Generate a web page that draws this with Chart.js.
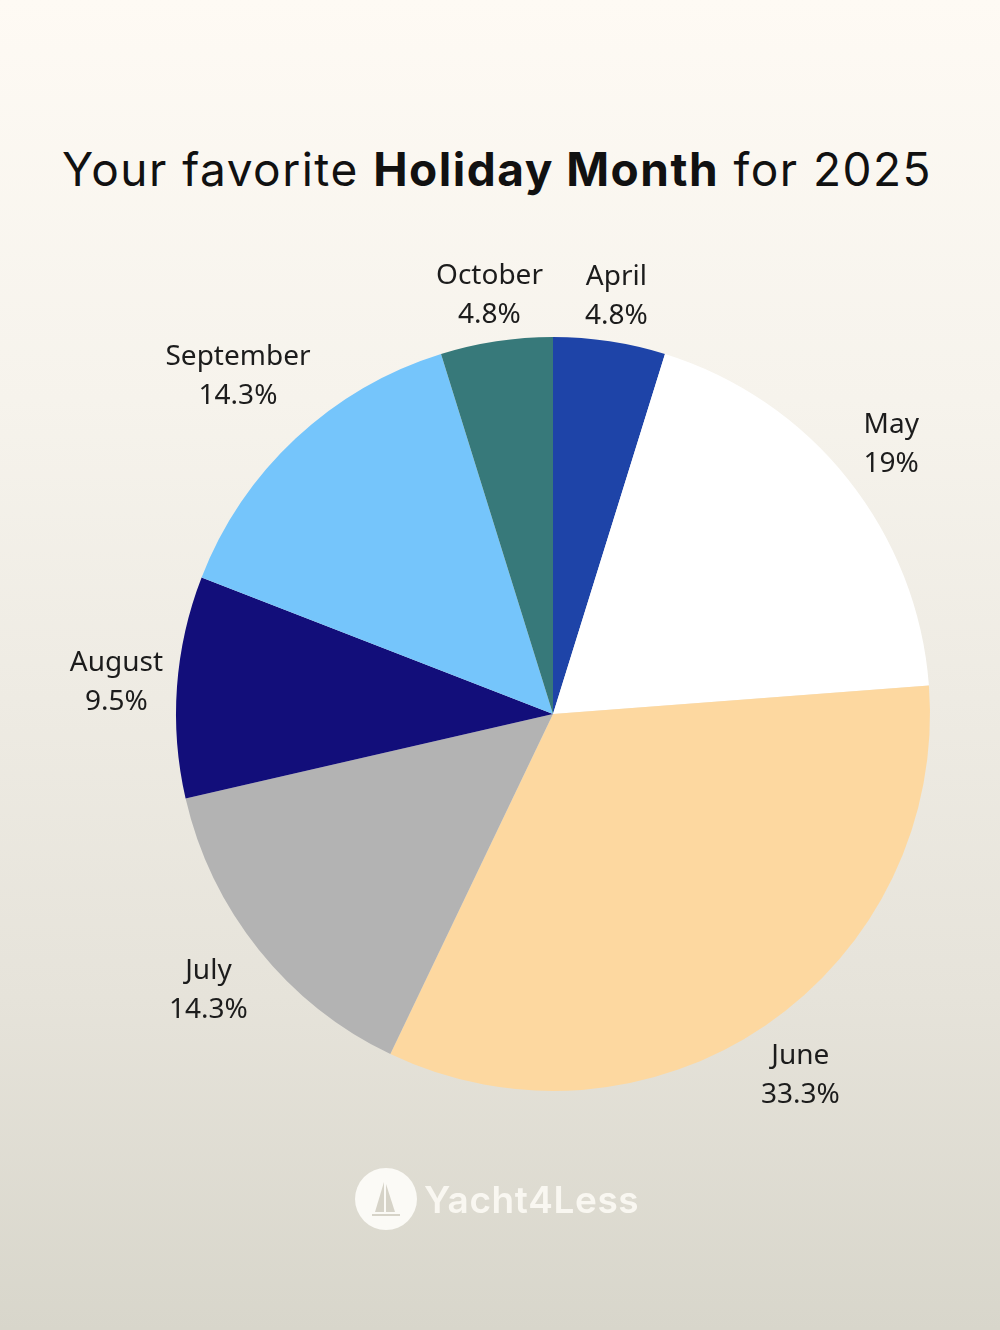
<!DOCTYPE html>
<html>
<head>
<meta charset="utf-8">
<script src="https://cdn.jsdelivr.net/npm/chart.js@4"></script>
<style>
  html, body { margin: 0; padding: 0; }
  body {
    width: 1000px; height: 1330px; position: relative; overflow: hidden;
    background: linear-gradient(to bottom, #fefaf4 0%, #f6f3ec 30%, #e6e3da 75%, #d8d6cb 100%);
  }
  #title {
    position: absolute; left: 0; width: 994px; top: 141px; margin: 0;
    text-align: center; font-family: Inter, "Open Sans", sans-serif; font-weight: 400;
    font-size: 46px; color: #111; letter-spacing: 1.5px; white-space: nowrap;
  }
  #title b { font-weight: 700; }
  canvas { position: absolute; left: 0; top: 0; }
  #logo {
    position: absolute; left: 355px; top: 1168px; height: 62px; display: flex; align-items: center;
  }
  #logo .txt {
    font-family: Inter, "Open Sans", sans-serif; font-weight: 600; font-size: 37px;
    color: #f9f7f1; margin-left: 7px; letter-spacing: 0.6px;
  }
</style>
</head>
<body>
<h1 id="title">Your favorite <b>Holiday Month</b> for 2025</h1>
<canvas id="c" width="1000" height="1330"></canvas>
<div id="logo">
  <svg width="62" height="62" viewBox="0 0 62 62">
    <circle cx="31" cy="31" r="31" fill="#fbfaf6"/>
    <path d="M29 14 L29 44 L20 44 Z" fill="#d6d3c8"/>
    <path d="M31 16 L31 44 L40 44 Z" fill="#d6d3c8"/>
    <rect x="17" y="46" width="28" height="2" fill="#d6d3c8"/>
  </svg>
  <span class="txt">Yacht4Less</span>
</div>
<script>
const months = ["April", "May", "June", "July", "August", "September", "October"];
const shares = [4.8, 19, 33.3, 14.3, 9.5, 14.3, 4.8];
const sliceColors = ["#1e44a8", "#ffffff", "#fdd8a0", "#b3b3b3", "#120e7a", "#75c5fb", "#37797a"];

const labelFont = '28px "Noto Sans", "Open Sans", sans-serif';
const lineH = 39;

// distance from pie centre to nearest point of a box centred at (bx,by) relative to centre
function nearestDist(bx, by, hw, hh) {
  const dx = Math.max(0, Math.abs(bx) - hw);
  const dy = Math.max(0, Math.abs(by) - hh);
  return Math.hypot(dx, dy);
}

const outsideLabels = {
  id: 'outsideLabels',
  afterDatasetsDraw(chart) {
    const ctx = chart.ctx;
    const meta = chart.getDatasetMeta(0);
    ctx.save();
    ctx.font = labelFont;
    ctx.fillStyle = '#1c1c1c';
    ctx.textAlign = 'center';
    ctx.textBaseline = 'middle';
    meta.data.forEach((arc, i) => {
      const p = arc.getProps(['x', 'y', 'startAngle', 'endAngle', 'outerRadius'], true);
      const mid = (p.startAngle + p.endAngle) / 2;
      const lines = [months[i], String(shares[i]) + '%'];
      const hw = Math.max(...lines.map(t => ctx.measureText(t).width)) / 2 + 8;
      const hh = 36;
      const target = p.outerRadius + 5;
      let lo = 0, hi = p.outerRadius * 3;
      for (let k = 0; k < 60; k++) {
        const t = (lo + hi) / 2;
        if (nearestDist(Math.cos(mid) * t, Math.sin(mid) * t, hw, hh) < target) lo = t; else hi = t;
      }
      const cx = p.x + Math.cos(mid) * hi;
      const cy = p.y + Math.sin(mid) * hi;
      lines.forEach((t, k) => {
        ctx.fillText(t, cx, cy + (k - (lines.length - 1) / 2) * lineH);
      });
    });
    ctx.restore();
  }
};

new Chart(document.getElementById('c'), {
  type: 'pie',
  data: {
    labels: months,
    datasets: [{
      data: shares,
      backgroundColor: sliceColors,
      borderWidth: 0
    }]
  },
  options: {
    responsive: false,
    animation: false,
    layout: { padding: { left: 176, right: 70, top: 337, bottom: 239 } },
    plugins: { legend: { display: false }, tooltip: { enabled: false }, title: { display: false } }
  },
  plugins: [outsideLabels]
});
</script>
</body>
</html>
